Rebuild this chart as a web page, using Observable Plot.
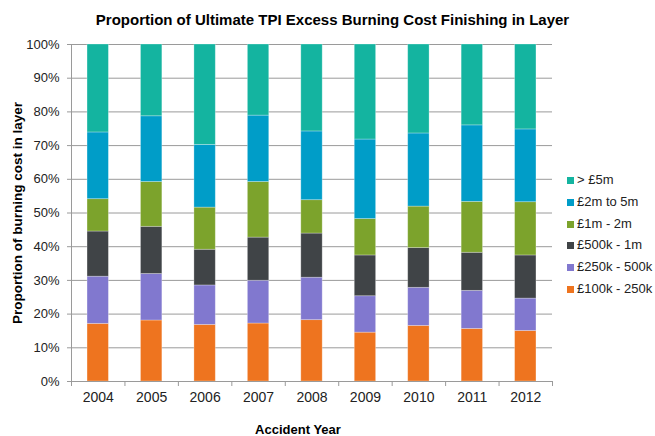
<!DOCTYPE html>
<html><head><meta charset="utf-8">
<script src="https://cdn.jsdelivr.net/npm/d3@7"></script>
<script src="https://cdn.jsdelivr.net/npm/@observablehq/plot@0.6"></script>
<style>
body{margin:0;background:#fff;}
#wrap{position:relative;width:655px;height:436px;font-family:"Liberation Sans",Arial,sans-serif;color:#222;}
#title{position:absolute;left:5px;width:655px;top:12px;text-align:center;font-weight:bold;font-size:15px;line-height:15px;color:#000;}
#xlabel{position:absolute;left:198px;width:200px;top:422px;text-align:center;font-weight:bold;font-size:13px;line-height:15px;color:#000;}
#legend{position:absolute;left:567px;top:169px;font-size:13px;}
#legend .item{height:21.8px;line-height:21.8px;white-space:nowrap;}
#legend .sw{display:inline-block;width:7px;height:7px;margin-right:3px;vertical-align:0px;}
#chart{position:absolute;left:0;top:0;}
</style></head>
<body>
<div id="wrap">
  <div id="chart"></div>
  <div id="title"></div>
  <div id="xlabel"></div>
  <div id="legend"></div>
</div>
<script>
const titleText = "Proportion of Ultimate TPI Excess Burning Cost Finishing in Layer";
const xLabel = "Accident Year";
const yLabel = "Proportion of burning cost in layer";
const years = [2004, 2005, 2006, 2007, 2008, 2009, 2010, 2011, 2012];
// layers from bottom to top
const layers = ["£100k - 250k", "£250k - 500k", "£500k - 1m", "£1m - 2m", "£2m to 5m", "> £5m"];
const colors = ["#ee741f", "#8178cf", "#404447", "#7ca32c", "#009dc8", "#14b4a0"];
// values in percent per layer
const l100k = [17.1, 18.1, 16.8, 17.2, 18.2, 14.5, 16.5, 15.6, 15.0];
const l250k = [14.0, 13.8, 11.7, 12.7, 12.6, 10.8, 11.3, 11.3, 9.6];
const l500k = [13.4, 14.0, 10.6, 12.8, 13.1, 12.1, 11.8, 11.3, 12.8];
const l1m   = [9.6, 13.3, 12.5, 16.5, 9.9, 10.8, 12.3, 15.1, 15.8];
const l2m   = [19.8, 19.5, 18.6, 19.7, 20.4, 23.6, 21.7, 22.7, 21.6];
const l5m   = [26.1, 21.3, 29.8, 21.1, 25.8, 28.2, 26.4, 24.0, 25.2];
const yTicks = [0, 10, 20, 30, 40, 50, 60, 70, 80, 90, 100];

const series = [l100k, l250k, l500k, l1m, l2m, l5m];
const rows = [];
years.forEach((yr, j) => {
  let acc = 0;
  series.forEach((s, i) => {
    rows.push({year: yr, layer: layers[i], y1: acc, y2: acc + s[j]});
    acc += s[j];
  });
});
const half = 0.2;
const bounds = [years[0] - 0.5, ...years.map(y => y + 0.5)];

const plot = Plot.plot({
  width: 655,
  height: 436,
  marginLeft: 71,
  marginRight: 103,
  marginTop: 44,
  marginBottom: 55,
  style: {fontFamily: "'Liberation Sans', Arial, sans-serif", fontSize: "13px", color: "#222", background: "white"},
  x: {type: "linear", domain: [bounds[0], bounds[bounds.length - 1]]},
  y: {domain: [0, 100]},
  color: {domain: layers, range: colors},
  marks: [
    Plot.gridY(yTicks, {stroke: "#9a9a9a", strokeOpacity: 1}),
    Plot.rectY(rows, {x1: d => d.year - half, x2: d => d.year + half, y1: "y1", y2: "y2", fill: "layer", stroke: "white", strokeOpacity: 0.35, strokeWidth: 0.8}),
    Plot.ruleY([0], {stroke: "#9a9a9a"}),
    Plot.ruleX([bounds[0]], {stroke: "#9a9a9a"}),
    Plot.axisY({ticks: yTicks, tickSize: 4, tickPadding: 8, tickFormat: d => d + "%", stroke: "#9a9a9a", label: null, fontSize: 13}),
    Plot.axisX({ticks: years, tickSize: 0, tickPadding: 11, tickFormat: d => String(d), label: null, fontSize: 14}),
    Plot.axisX({ticks: bounds, tickSize: 5, tickFormat: () => "", stroke: "#9a9a9a", label: null}),
    Plot.text([yLabel], {frameAnchor: "left", dx: -54, rotate: -90, textAnchor: "middle", lineAnchor: "middle", fontWeight: "bold", fontSize: 13.5, fill: "#000"})
  ]
});
document.getElementById("chart").appendChild(plot);
document.getElementById("title").textContent = titleText;
document.getElementById("xlabel").textContent = xLabel;
const leg = document.getElementById("legend");
for (let i = layers.length - 1; i >= 0; i--) {
  const it = document.createElement("div");
  it.className = "item";
  const sw = document.createElement("span");
  sw.className = "sw";
  sw.style.background = colors[i];
  it.appendChild(sw);
  it.appendChild(document.createTextNode(layers[i]));
  leg.appendChild(it);
}
</script>
</body></html>
